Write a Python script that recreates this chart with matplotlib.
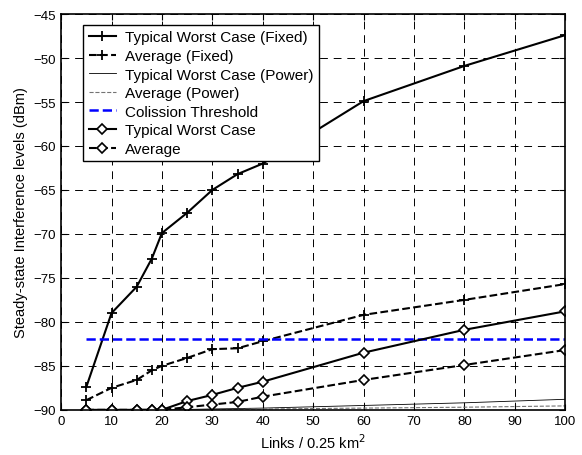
import matplotlib
matplotlib.use("Agg")
import matplotlib.pyplot as plt

plt.rcParams['font.family'] = ['Liberation Sans', 'DejaVu Sans']

# data
links = [5, 10, 15, 18, 20, 25, 30, 35, 40, 60, 80, 100]
worst_fixed = [-87.4, -79.0, -76.0, -72.8, -69.9, -67.6, -65.0, -63.2, -62.0, -54.9, -50.9, -47.4]
avg_fixed = [-88.9, -87.5, -86.6, -85.5, -85.0, -84.1, -83.1, -83.0, -82.2, -79.2, -77.5, -75.7]
worst_power = [-90.0, -90.0, -90.0, -90.0, -90.0, -89.95, -89.9, -89.85, -89.8, -89.5, -89.2, -88.8]
avg_power = [-90.0, -90.0, -90.0, -90.0, -90.0, -90.0, -89.95, -89.95, -89.9, -89.8, -89.7, -89.55]
threshold_x = [5, 100]
threshold_y = [-81.9, -81.9]
worst = [-90.0, -90.0, -90.0, -90.0, -90.0, -89.0, -88.3, -87.5, -86.8, -83.5, -80.9, -78.8]
avg = [-90.0, -90.0, -90.0, -90.0, -90.0, -89.7, -89.4, -89.1, -88.5, -86.6, -84.9, -83.2]

fig = plt.figure(figsize=(5.82, 4.56), dpi=100)
ax = fig.add_axes([0.105, 0.099, 0.866, 0.868])

ax.plot(links, worst_fixed, 'k-', lw=1.5, marker='+', ms=7, mew=1.3, label='Typical Worst Case (Fixed)')
ax.plot(links, avg_fixed, 'k--', lw=1.5, marker='+', ms=7, mew=1.3, label='Average (Fixed)')
ax.plot(links, worst_power, 'k-', lw=0.6, label='Typical Worst Case (Power)')
ax.plot(links, avg_power, '--', color='0.45', lw=0.8, label='Average (Power)')
ax.plot(threshold_x, threshold_y, '--', color='#0000ff', lw=1.8, label='Colission Threshold')
ax.plot(links, worst, 'k-', lw=1.5, marker='D', ms=5.5, mfc='white', mew=1.2, label='Typical Worst Case')
ax.plot(links, avg, 'k--', lw=1.5, marker='D', ms=5.5, mfc='white', mew=1.2, label='Average')

ax.set_xlim(0, 100)
ax.set_ylim(-90, -45)
ax.set_xticks(range(0, 101, 10))
ax.set_yticks(range(-90, -44, 5))
ax.grid(True, color='black', linestyle=(0, (8, 6)), linewidth=0.7)
ax.tick_params(direction='in', top=True, right=True, labelsize=9.5, length=4)
for s in ax.spines.values():
    s.set_linewidth(1.2)

ax.set_xlabel('Links / 0.25 km$^2$', fontsize=10.5)
ax.set_ylabel('Steady-state Interference levels (dBm)', fontsize=10.5)

leg = ax.legend(loc='upper left', bbox_to_anchor=(0.044, 0.972), fontsize=11,
                fancybox=False, framealpha=1, edgecolor='black',
                handlelength=1.8, borderaxespad=0, labelspacing=0.3,
                borderpad=0.35, handletextpad=0.6)
leg.get_frame().set_linewidth(1.0)

fig.savefig('out.png', dpi=100)
